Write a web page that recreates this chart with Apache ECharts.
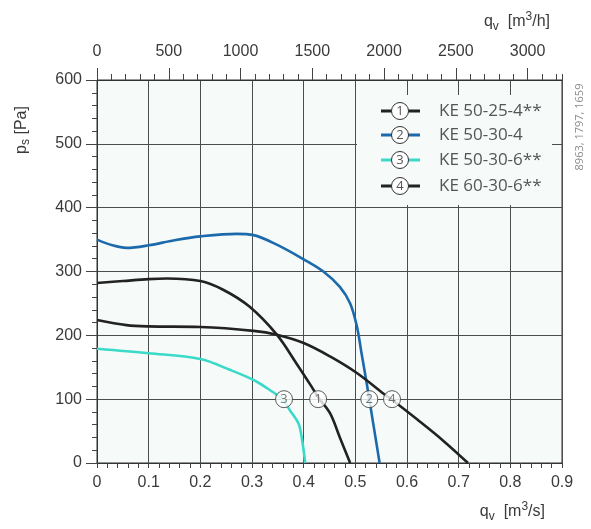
<!DOCTYPE html>
<html lang="en">
<head>
    <meta http-equiv="Content-Type" content="text/html; charset=UTF-8">
    <title>KE fan curves</title>
    <script type="text/javascript" src="https://cdn.jsdelivr.net/npm/echarts@6/dist/echarts.min.js"></script>
</head>
<body style="margin:0;width:591px;height:529px;background:#fff">
<div id="main" style="width:591px;height:529px"></div>
<script type="text/javascript">
    // curve data, q [m3/s] vs ps [Pa]
    var names = ['KE 50-25-4', 'KE 50-30-4', 'KE 50-30-6', 'KE 60-30-6'];
    var stars = ['**', '', '**', '**'];
    var colors = ['#222222', '#1c6aab', '#3ad9c8', '#222222'];

    var curve1 = [[0, 282], [0.05, 285], [0.1, 288], [0.135, 289], [0.2, 285], [0.245, 271], [0.295, 245],
        [0.348, 201], [0.386, 156], [0.415, 120], [0.428, 103], [0.451, 78], [0.47, 40], [0.49, 0]];
    var curve2 = [[0, 350], [0.03, 341], [0.057, 337], [0.1, 341], [0.15, 349], [0.2, 355], [0.27, 359],
        [0.303, 357], [0.348, 342], [0.4, 319], [0.438, 300], [0.47, 276], [0.49, 250], [0.503, 214],
        [0.512, 172], [0.522, 125], [0.527, 100], [0.547, 0]];
    var curve3 = [[0, 179], [0.1, 172], [0.2, 163], [0.257, 146], [0.303, 130], [0.335, 114], [0.36, 99],
        [0.373, 83], [0.39, 62], [0.396, 41], [0.403, 0]];
    var curve4 = [[0, 224], [0.057, 216], [0.1, 214], [0.2, 213], [0.303, 207], [0.348, 201], [0.4, 188],
        [0.451, 167], [0.503, 141], [0.554, 109], [0.571, 99], [0.62, 68], [0.67, 35], [0.718, 0]];
    var curves = [curve1, curve2, curve3, curve4];

    // where the numbered circles sit on the curves
    var markerPos = [[0.428, 100], [0.527, 100], [0.362, 100], [0.571, 100]];

    var myChart = echarts.init(document.getElementById('main'));

    var axisFont = {fontFamily: 'Liberation Sans', fontSize: 16, color: '#3a3a3a'};
    var gridColor = '#4d4d4d';
    var plotBg = '#f6faf9';

    var series = [];
    curves.forEach(function (c, i) {
        series.push({
            name: names[i],
            type: 'line',
            xAxisIndex: 0,
            data: c,
            smooth: 0.35,
            showSymbol: false,
            lineStyle: {color: colors[i], width: 2.6},
            z: 3
        });
    });
    series.push({
        type: 'scatter',
        xAxisIndex: 0,
        data: markerPos.map(function (p, i) { return {value: p, label: {formatter: String(i + 1)}}; }),
        symbol: 'circle',
        symbolSize: 17,
        itemStyle: {color: '#ffffff', borderColor: '#333', borderWidth: 1},
        label: {show: true, position: 'inside', fontFamily: 'Open Sans', fontSize: 13, color: '#555'},
        z: 5
    });

    // legend drawn by hand: line, numbered circle, name
    var legendRows = [111, 135, 160, 186];
    var graphics = [
        {type: 'rect', shape: {x: 357, y: 95, width: 195, height: 110}, style: {fill: plotBg}, z: 1},
        {
            type: 'text', x: 22, y: 130, rotation: Math.PI / 2,
            style: {
                text: '{a|p}{s|s}{a| [Pa]}', align: 'center', verticalAlign: 'middle',
                rich: {
                    a: {fontFamily: 'Liberation Sans', fontSize: 16, fill: '#3a3a3a'},
                    s: {fontFamily: 'Liberation Sans', fontSize: 12, fill: '#3a3a3a', padding: [8, 0, 0, 0]}
                }
            }
        },
        {
            type: 'text', x: 545, y: 512,
            style: {
                text: '{a|q}{s|v}{a|  [m}{p|3}{a|/s]}', align: 'right', verticalAlign: 'middle',
                rich: {
                    a: {fontFamily: 'Liberation Sans', fontSize: 16, fill: '#3a3a3a'},
                    s: {fontFamily: 'Liberation Sans', fontSize: 12, fill: '#3a3a3a', padding: [10, 0, 0, 0]},
                    p: {fontFamily: 'Liberation Sans', fontSize: 12, fill: '#3a3a3a', padding: [0, 0, 10, 0]}
                }
            }
        },
        {
            type: 'text', x: 550, y: 22,
            style: {
                text: '{a|q}{s|v}{a|  [m}{p|3}{a|/h]}', align: 'right', verticalAlign: 'middle',
                rich: {
                    a: {fontFamily: 'Liberation Sans', fontSize: 16, fill: '#3a3a3a'},
                    s: {fontFamily: 'Liberation Sans', fontSize: 12, fill: '#3a3a3a', padding: [10, 0, 0, 0]},
                    p: {fontFamily: 'Liberation Sans', fontSize: 12, fill: '#3a3a3a', padding: [0, 0, 10, 0]}
                }
            }
        },
        {
            type: 'text', x: 580, y: 127, rotation: Math.PI / 2,
            style: {
                text: '8963, 1797, 1659', align: 'center', verticalAlign: 'middle',
                fontFamily: 'Open Sans', fontSize: 11, fill: '#8a8a8a'
            }
        }
    ];
    legendRows.forEach(function (y, i) {
        graphics.push({type: 'line', shape: {x1: 381, y1: y, x2: 420, y2: y},
            style: {stroke: colors[i], lineWidth: 3}, z: 2});
        graphics.push({type: 'circle', shape: {cx: 400, cy: y, r: 8.5},
            style: {fill: '#fff', stroke: '#333', lineWidth: 1}, z: 3});
        graphics.push({type: 'text', x: 400, y: y,
            style: {text: String(i + 1), align: 'center', verticalAlign: 'middle',
                fontFamily: 'Open Sans', fontSize: 13, fill: '#555'}, z: 4});
        graphics.push({type: 'text', x: 439, y: y,
            style: {text: names[i] + stars[i], align: 'left', verticalAlign: 'middle',
                fontFamily: 'Open Sans', fontSize: 17, fill: '#555'}, z: 4});
    });

    myChart.setOption({
        animation: false,
        grid: {
            left: 97, top: 80, right: 29, bottom: 66,
            show: true, backgroundColor: plotBg, borderColor: '#333', borderWidth: 1
        },
        xAxis: [{
            type: 'value', position: 'bottom', min: 0, max: 0.9, interval: 0.1,
            axisLine: {lineStyle: {color: '#333'}},
            axisTick: {show: true, length: 5, lineStyle: {color: '#444'}},
            minorTick: {show: true, splitNumber: 5, length: 5, lineStyle: {color: '#444'}},
            axisLabel: Object.assign({margin: 12}, axisFont),
            splitLine: {show: true, lineStyle: {color: gridColor, width: 1}}
        }, {
            type: 'value', position: 'top', min: 0, max: 3240, interval: 500,
            axisLine: {show: true, lineStyle: {color: '#333'}},
            axisTick: {show: true, length: 12, lineStyle: {color: '#444'}},
            axisLabel: Object.assign({margin: 20, showMaxLabel: false,
                formatter: function (v) { return String(v); }}, axisFont),
            splitLine: {show: false}
        }, {
            type: 'value', position: 'top', min: 0, max: 3240, interval: 100,
            axisLine: {show: false},
            axisTick: {show: true, length: 6, lineStyle: {color: '#444'}},
            axisLabel: {show: false},
            splitLine: {show: false}
        }],
        yAxis: {
            type: 'value', min: 0, max: 600, interval: 100,
            axisLine: {show: true, lineStyle: {color: '#333'}},
            axisTick: {show: true, length: 11, lineStyle: {color: '#444'}},
            minorTick: {show: true, splitNumber: 5, length: 5, lineStyle: {color: '#444'}},
            axisLabel: Object.assign({margin: 15}, axisFont),
            splitLine: {show: true, lineStyle: {color: gridColor, width: 1}}
        },
        graphic: graphics,
        series: series
    });
</script>
</body>
</html>
